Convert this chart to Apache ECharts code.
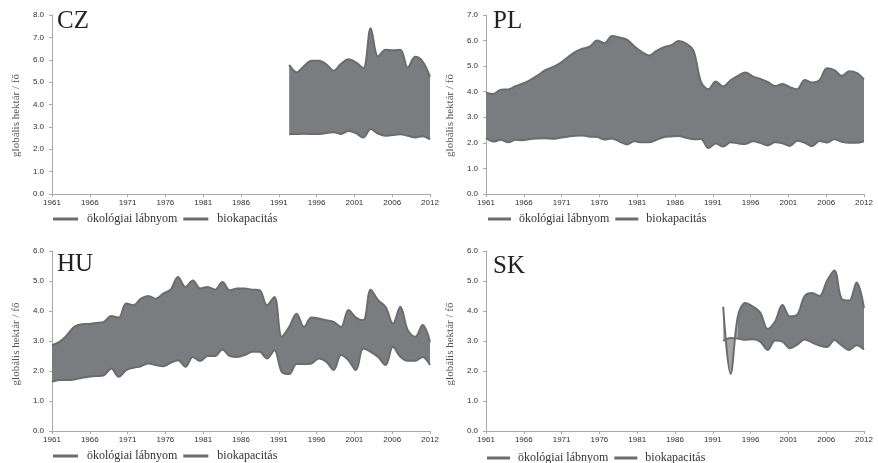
<!DOCTYPE html>
<html><head><meta charset="utf-8">
<script src="https://cdn.jsdelivr.net/npm/echarts@6/dist/echarts.min.js"></script>
<style>html,body{margin:0;padding:0;background:#fff}#c{width:878px;height:463px}</style>
</head><body><div id="c"></div>
<script>
// ---- data ----
const firstYear = 1961;
const lastYear = 2012;
const xTickLabels = ['1961','1966','1971','1976','1981','1986','1991','1996','2001','2006','2012'];
const legendNames = ['ökológiai lábnyom', 'biokapacitás'];
const yAxisName = 'globális hektár / fő';

const czStart = 1993;
const czFootprint = [5.77,5.44,5.72,5.96,5.95,5.80,5.51,5.82,6.02,5.88,5.62,7.41,6.15,6.45,6.42,6.45,5.65,6.13,5.92,5.24];
const czBiocap    = [2.67,2.68,2.69,2.68,2.68,2.73,2.76,2.68,2.82,2.72,2.52,2.90,2.70,2.60,2.64,2.67,2.60,2.53,2.58,2.44];

const plStart = 1961;
const plFootprint = [3.96,3.91,4.08,4.09,4.22,4.32,4.46,4.64,4.84,4.96,5.12,5.34,5.55,5.68,5.76,6.00,5.90,6.18,6.12,6.04,
  5.78,5.56,5.42,5.60,5.74,5.82,5.98,5.88,5.60,4.40,4.10,4.40,4.20,4.45,4.62,4.75,4.60,4.50,4.38,4.22,
  4.30,4.18,4.10,4.46,4.36,4.45,4.92,4.84,4.62,4.80,4.74,4.48];
const plBiocap = [2.20,2.05,2.12,2.02,2.12,2.10,2.15,2.17,2.18,2.16,2.20,2.24,2.28,2.29,2.24,2.23,2.13,2.17,2.05,1.94,
  2.06,2.02,2.02,2.12,2.22,2.25,2.27,2.20,2.14,2.15,1.80,1.97,1.86,2.02,1.98,1.96,2.06,2.00,1.90,2.02,
  1.98,1.88,2.08,2.00,1.87,2.07,2.01,2.14,2.04,2.00,2.00,2.06];

const huStart = 1961;
const huFootprint = [2.86,2.97,3.19,3.47,3.56,3.57,3.60,3.64,3.83,3.78,4.25,4.19,4.41,4.50,4.41,4.58,4.71,5.13,4.80,5.02,
  4.75,4.80,4.71,4.97,4.69,4.75,4.75,4.71,4.69,4.19,4.47,3.14,3.47,3.91,3.47,3.78,3.75,3.69,3.64,3.47,
  4.03,3.78,3.69,4.71,4.36,4.14,3.58,4.14,3.36,3.14,3.53,2.97];
const huBiocap = [1.64,1.70,1.70,1.72,1.77,1.81,1.83,1.86,2.08,1.81,2.03,2.11,2.16,2.25,2.20,2.16,2.27,2.36,2.14,2.47,
  2.33,2.50,2.50,2.72,2.50,2.47,2.53,2.64,2.64,2.42,2.69,1.97,1.90,2.23,2.23,2.25,2.42,2.31,2.03,2.53,
  2.36,2.03,2.75,2.64,2.47,2.20,2.81,2.47,2.34,2.34,2.47,2.20];

const skStart = 1993;
const skFootprint = [4.14,1.90,3.84,4.27,4.15,3.95,3.40,3.65,4.20,3.82,3.88,4.50,4.60,4.50,5.00,5.35,4.40,4.35,4.95,4.10];
const skBiocap    = [3.00,3.10,3.08,3.04,3.06,2.98,2.70,3.02,2.98,2.76,2.88,3.05,2.95,2.85,2.80,3.03,2.85,2.70,2.86,2.72];

// ---- styles ----
const DARK = '#7b7c7f';
const LIGHT = '#a6a6a9';
const LINE = '#6b6c6f';
const AXIS = '#a9a9a9';
const LABEL = '#2e2e2e';
const SERIF = '"Liberation Serif", "Times New Roman", serif';
const SANS = '"Liberation Sans", Arial, sans-serif';
const SMOOTH = 0.35;

const panels = [
  {title:'CZ', start:czStart, fp:czFootprint, bio:czBiocap, yMax:8,
   grid:{left:52,right:448,top:15,bottom:269}, legend:{left:53,top:213,w:25,pad:4}, t:{left:57,top:9}, namePad:22},
  {title:'PL', start:plStart, fp:plFootprint, bio:plBiocap, yMax:7,
   grid:{left:486,right:14,top:15,bottom:269}, legend:{left:488,top:213,w:23,pad:3}, t:{left:493,top:9}, namePad:22},
  {title:'HU', start:huStart, fp:huFootprint, bio:huBiocap, yMax:6,
   grid:{left:52,right:448,top:251,bottom:32}, legend:{left:53,top:450,w:25,pad:4}, t:{left:57,top:252}, namePad:6},
  {title:'SK', start:skStart, fp:skFootprint, bio:skBiocap, yMax:6,
   grid:{left:486,right:14,top:251,bottom:32}, legend:{left:487,top:452,w:23,pad:3}, t:{left:493,top:254}, namePad:6}
];

const years = [];
for (let y = firstYear; y <= lastYear; y++) years.push(String(y));
const span = years.length - 1;
const tickStep = span / (xTickLabels.length - 1);

const grids = [], xAxes = [], yAxes = [], titles = [], legends = [], series = [], visualMaps = [];

panels.forEach((p, i) => {
  grids.push(Object.assign({containLabel:false}, p.grid));
  // hidden category axis carrying the yearly data
  xAxes.push({type:'category', gridIndex:i, data:years, boundaryGap:false, show:false, position:'top'});
  // visible axis with the evenly spaced year labels
  xAxes.push({
    type:'value', gridIndex:i, position:'bottom', min:0, max:span, interval:tickStep,
    axisLine:{show:true, onZero:false, lineStyle:{color:AXIS, width:1}},
    axisTick:{show:true, length:3, lineStyle:{color:AXIS}},
    splitLine:{show:false},
    axisLabel:{fontFamily:SANS, fontSize:8, color:LABEL, margin:5,
      formatter:(v)=> xTickLabels[Math.round(v / tickStep)] || ''}
  });
  yAxes.push({
    type:'value', gridIndex:i, min:0, max:p.yMax, interval:1,
    name:yAxisName, nameLocation:'middle', nameGap:30,
    nameTextStyle:{fontFamily:SERIF, fontSize:11, color:'#555', padding:[0,p.namePad,0,0]},
    axisLine:{show:true, onZero:false, lineStyle:{color:AXIS, width:1}},
    axisTick:{show:true, length:3, lineStyle:{color:AXIS}},
    splitLine:{show:false},
    axisLabel:{fontFamily:SANS, fontSize:8, color:LABEL, margin:8, formatter:(v)=>v.toFixed(1)}
  });
  titles.push({text:p.title, left:p.t.left, top:p.t.top, padding:0,
    textStyle:{fontFamily:SERIF, fontSize:25, fontWeight:'normal', color:'#222'}});
  legends.push({
    data:legendNames, left:p.legend.left, top:p.legend.top, orient:'horizontal',
    icon:'rect', itemWidth:p.legend.w, itemHeight:3, itemGap:6, padding:0, selectedMode:false,
    textStyle:{fontFamily:SERIF, fontSize:12, color:'#333', padding:[0,0,0,p.legend.pad]}
  });

  const offset = p.start - firstYear;
  const full = (arr) => years.map((y, k) => (k >= offset && k - offset < arr.length) ? arr[k - offset] : null);
  const fpFull = full(p.fp);
  const bioFull = full(p.bio);
  const diffFull = years.map((y, k) => (fpFull[k] == null || bioFull[k] == null) ? null : +(fpFull[k] - bioFull[k]).toFixed(4));
  const stackId = 'gap' + i;
  const xi = 2 * i;

  series.push({
    type:'line', name:legendNames[1], xAxisIndex:xi, yAxisIndex:i, data:bioFull,
    stack:stackId, stackStrategy:'all', smooth:SMOOTH, symbol:'none', silent:true,
    lineStyle:{color:LINE, width:2}, itemStyle:{color:LINE}, z:3
  });
  const diffIndex = series.length;
  const hasCross = diffFull.some(d => d != null && d < 0);
  series.push({
    type:'line', name:'gap' + i, xAxisIndex:xi, yAxisIndex:i, data:diffFull,
    stack:stackId, stackStrategy:'all', smooth:SMOOTH, symbol:'none', silent:true,
    lineStyle:{width:0, opacity:0}, itemStyle:{color:DARK},
    areaStyle: hasCross ? {opacity:1} : {color:DARK, opacity:1}, z:2
  });
  series.push({
    type:'line', name:legendNames[0], xAxisIndex:xi, yAxisIndex:i, data:fpFull,
    smooth:SMOOTH, symbol:'none', silent:true,
    lineStyle:{color:LINE, width:2}, itemStyle:{color:LINE}, z:3
  });

  if (hasCross) {
    const cuts = [];
    for (let k = 0; k < diffFull.length - 1; k++) {
      const a = diffFull[k], b = diffFull[k+1];
      if (a == null || b == null) continue;
      if ((a >= 0) !== (b >= 0)) cuts.push(k + a / (a - b));
    }
    const bounds = [-1].concat(cuts, [span + 1]);
    let neg = diffFull[offset] < 0;
    const pieces = [];
    for (let b = 0; b < bounds.length - 1; b++) {
      pieces.push({gte:bounds[b], lt:bounds[b+1], color: neg ? LIGHT : DARK});
      neg = !neg;
    }
    visualMaps.push({type:'piecewise', show:false, dimension:0, seriesIndex:diffIndex, pieces});
  }
});

const chart = echarts.init(document.getElementById('c'), null, {renderer:'canvas'});
chart.setOption({
  backgroundColor:'#fff',
  animation:false,
  title:titles, legend:legends, grid:grids, xAxis:xAxes, yAxis:yAxes,
  visualMap:visualMaps, series
});
</script></body></html>
